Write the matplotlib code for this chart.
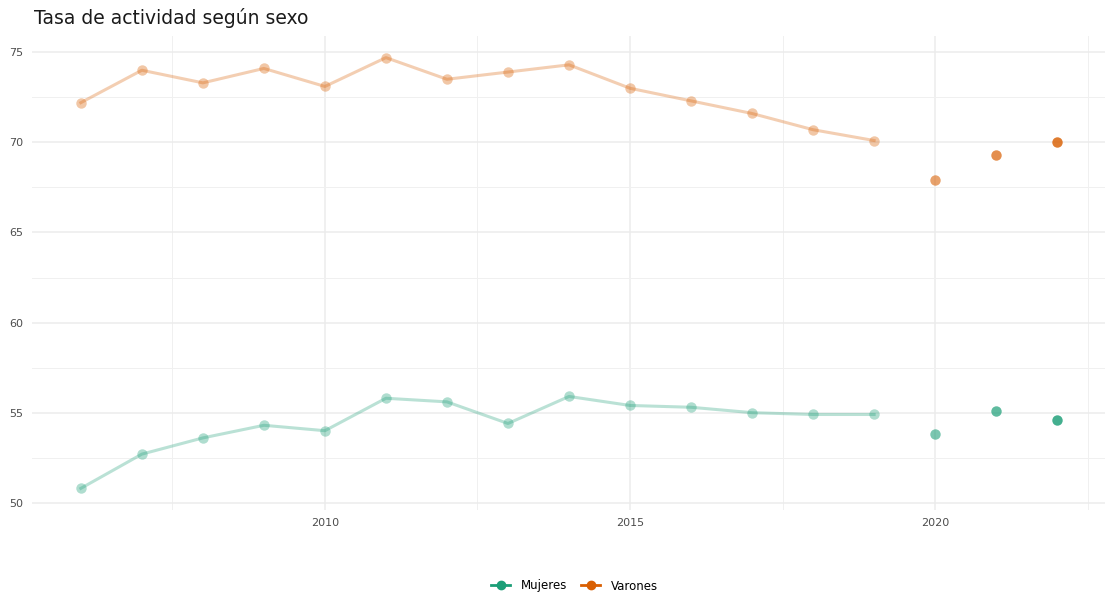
import matplotlib
matplotlib.use('Agg')
import matplotlib.pyplot as plt
from matplotlib.lines import Line2D

years = list(range(2006, 2023))
varones = [72.2, 74.0, 73.3, 74.1, 73.1, 74.7, 73.5, 73.9, 74.3, 73.0, 72.3, 71.6, 70.7, 70.1,
           67.9, 69.3, 70.0]
mujeres = [50.8, 52.7, 53.6, 54.3, 54.0, 55.8, 55.6, 54.4, 55.9, 55.4, 55.3, 55.0, 54.9, 54.9,
           53.8, 55.1, 54.6]
series_names = ['Mujeres', 'Varones']
xticks = [2010, 2015, 2020]
yticks = [50, 55, 60, 65, 70, 75]

COLORS = {'Mujeres': '#1b9e77', 'Varones': '#d95f02'}
# opacity per point: pre-2020 faded, then increasing
point_alpha = [0.35] * 14 + [0.58, 0.7, 0.82]

fig = plt.figure(figsize=(11.05, 5.99), dpi=100)
ax = fig.add_axes([32 / 1105, 1 - 510 / 599, 1074 / 1105, (510 - 36) / 599])

for name, vals in zip(series_names, [mujeres, varones]):
    c = COLORS[name]
    ax.plot(years[:14], vals[:14], color=c, alpha=0.3, linewidth=2.2, zorder=2)
    for yr, v, a in zip(years, vals, point_alpha):
        ax.plot(yr, v, 'o', color=c, alpha=a, markersize=7.5, markeredgewidth=0, zorder=3)

ax.set_xlim(2005.2, 2022.8)
ax.set_ylim(49.6, 75.9)
ax.set_xticks(xticks)
ax.set_xticks([2007.5, 2012.5, 2017.5, 2022.5], minor=True)
ax.set_yticks(yticks)
ax.set_yticks([52.5, 57.5, 62.5, 67.5, 72.5], minor=True)
ax.grid(True, which='major', color='#ececec', linewidth=1.1)
ax.grid(True, which='minor', color='#f0f0f0', linewidth=0.7)
ax.set_axisbelow(True)
for s in ax.spines.values():
    s.set_visible(False)
ax.tick_params(which='both', length=0, labelsize=8, colors='#4d4d4d', pad=6)

fig.text(34 / 1105, 1 - 18 / 599, 'Tasa de actividad según sexo', fontsize=13.5,
         color='#1a1a1a', va='center', ha='left')

handles = [Line2D([0], [0], color=COLORS[n], marker='o', markersize=6, linewidth=2, label=n)
           for n in series_names]
fig.legend(handles=handles, loc='center', bbox_to_anchor=(0.52, 1 - 586 / 599), ncol=2,
           frameon=False, fontsize=8.5, handlelength=1.6, columnspacing=1.2, handletextpad=0.9)

fig.savefig('out.png', dpi=100, facecolor='white')
